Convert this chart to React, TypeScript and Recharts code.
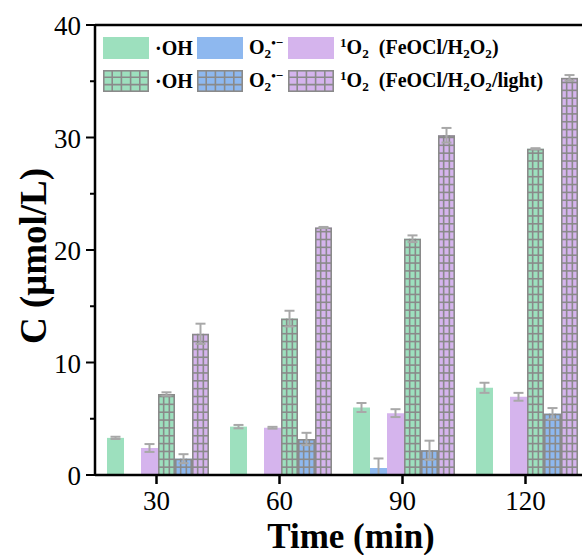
import React from "react";
import {
  BarChart,
  Bar,
  XAxis,
  YAxis,
  ErrorBar,
  Legend,
  ReferenceLine,
} from "recharts";

const SERIF = '"Liberation Serif", "Times New Roman", serif';

const times = ["30", "60", "90", "120"];

// FeOCl/H2O2
const ohDark = [3.3, 4.3, 6.0, 7.75];
const ohDarkErr = [0.1, 0.15, 0.4, 0.45];
const o2Dark = [0, 0, 0.62, 0];
const o2DarkErr = [0, 0, 0.85, 0];
const singletDark = [2.4, 4.2, 5.5, 6.95];
const singletDarkErr = [0.35, 0.08, 0.35, 0.35];

// FeOCl/H2O2/light
const ohLight = [7.2, 13.9, 21.0, 29.0];
const ohLightErr = [0.15, 0.7, 0.3, 0.05];
const o2Light = [1.45, 3.2, 2.2, 5.45];
const o2LightErr = [0.4, 0.55, 0.85, 0.5];
const singletLight = [12.55, 22.0, 30.2, 35.3];
const singletLightErr = [0.9, 0.05, 0.65, 0.25];

const yTicks = [0, 5, 10, 15, 20, 25, 30, 35, 40];

const GREEN = "#9de0be";
const BLUE = "#8eb8ef";
const PURPLE = "#d5b4ed";
const GRID = "#8a8a8a";
const ERR = "#a8a8a8";

// error bars never go below zero
const err = (v: number, e: number) => (e ? [Math.min(v, e), e] : 0);

const data = times.map((t, i) => ({
  time: t,
  ohD: ohDark[i],
  ohDE: err(ohDark[i], ohDarkErr[i]),
  o2D: o2Dark[i],
  o2DE: err(o2Dark[i], o2DarkErr[i]),
  s1D: singletDark[i],
  s1DE: err(singletDark[i], singletDarkErr[i]),
  ohL: ohLight[i],
  ohLE: err(ohLight[i], ohLightErr[i]),
  o2L: o2Light[i],
  o2LE: err(o2Light[i], o2LightErr[i]),
  s1L: singletLight[i],
  s1LE: err(singletLight[i], singletLightErr[i]),
}));

const series = [
  { key: "ohD", color: GREEN, grid: false },
  { key: "o2D", color: BLUE, grid: false },
  { key: "s1D", color: PURPLE, grid: false },
  { key: "ohL", color: GREEN, grid: true },
  { key: "o2L", color: BLUE, grid: true },
  { key: "s1L", color: PURPLE, grid: true },
];

const small = { fontSize: "0.66em" };
const Sub = ({ children }: { children: React.ReactNode }) => (
  <span style={{ ...small, position: "relative", top: "0.35em" }}>{children}</span>
);
const Sup = ({ children }: { children: React.ReactNode }) => (
  <span style={{ ...small, position: "relative", top: "-0.5em" }}>{children}</span>
);

const OH = <>·OH</>;
const O2 = (
  <>
    O<Sub>2</Sub>
    <Sup>•−</Sup>
  </>
);

const legendText: Record<string, React.ReactNode> = {
  ohD: OH,
  o2D: O2,
  s1D: (
    <>
      <Sup>1</Sup>O<Sub>2</Sub>
      {"\u00a0\u00a0"}(FeOCl/H<Sub>2</Sub>O<Sub>2</Sub>)
    </>
  ),
  ohL: OH,
  o2L: O2,
  s1L: (
    <>
      <Sup>1</Sup>O<Sub>2</Sub>
      {"\u00a0\u00a0"}(FeOCl/H<Sub>2</Sub>O<Sub>2</Sub>/light)
    </>
  ),
};

const colLeft = [0, 94, 185];
const rowTop = [0, 33];

function Swatch({ color, grid }: { color: string; grid: boolean }) {
  return (
    <svg width={46} height={22} style={{ display: "block", flex: "none" }}>
      <rect x={0} y={0} width={46} height={22} fill={color} />
      {grid && (
        <g stroke={GRID} strokeWidth={1.6}>
          {[9.2, 18.4, 27.6, 36.8].map((v) => (
            <line key={v} x1={v} x2={v} y1={0} y2={22} />
          ))}
          {[7.3, 14.6].map((v) => (
            <line key={v} x1={0} x2={46} y1={v} y2={v} />
          ))}
          <rect x={0.8} y={0.8} width={44.4} height={20.4} fill="none" />
        </g>
      )}
    </svg>
  );
}

function renderLegend(props: any) {
  const payload: any[] = props.payload || [];
  return (
    <div
      style={{
        position: "relative",
        width: 475,
        height: 56,
        fontFamily: SERIF,
        fontWeight: "bold",
        fontSize: 20,
        color: "#000",
      }}
    >
      {payload.map((entry) => {
        const idx = series.findIndex((s) => s.key === entry.dataKey);
        if (idx < 0) return null;
        const s = series[idx];
        return (
          <div
            key={s.key}
            style={{
              position: "absolute",
              left: colLeft[idx % 3],
              top: rowTop[Math.floor(idx / 3)],
              height: 22,
              display: "flex",
              alignItems: "center",
              whiteSpace: "nowrap",
            }}
          >
            <Swatch color={s.color} grid={s.grid} />
            <span style={{ marginLeft: 6, lineHeight: "22px" }}>{legendText[s.key]}</span>
          </div>
        );
      })}
    </div>
  );
}

function GridBar(props: any) {
  const { x, y, width, height, fill } = props;
  if (!height || height <= 0) return <g />;
  const bottom = y + height;
  const step = 7.85;
  const rows: number[] = [];
  for (let yy = bottom - step; yy > y + 1.5; yy -= step) rows.push(yy);
  return (
    <g>
      <rect x={x} y={y} width={width} height={height} fill={fill} />
      <g stroke={GRID} strokeWidth={1.6}>
        {[1, 2].map((k) => (
          <line key={k} x1={x + (width * k) / 3} x2={x + (width * k) / 3} y1={y} y2={bottom} />
        ))}
        {rows.map((r) => (
          <line key={r} x1={x} x2={x + width} y1={r} y2={r} />
        ))}
        <rect x={x + 0.8} y={y + 0.8} width={width - 1.6} height={height - 0.8} fill="none" />
      </g>
    </g>
  );
}

function YTick(props: any) {
  const { x, y, payload } = props;
  const major = payload.value % 10 === 0;
  return (
    <g>
      <line x1={x - (major ? 9 : 5)} x2={x} y1={y} y2={y} stroke="#000" strokeWidth={2} />
      {major && (
        <text x={x - 14} y={y + 10} textAnchor="end" fontSize={27} fontFamily={SERIF} fill="#000">
          {payload.value}
        </text>
      )}
    </g>
  );
}

function XTick(props: any) {
  const { x, y, payload } = props;
  return (
    <g>
      <line x1={x} x2={x} y1={y} y2={y + 9} stroke="#000" strokeWidth={2.5} />
      <text x={x} y={y + 34.5} textAnchor="middle" fontSize={27} fontFamily={SERIF} fill="#000">
        {payload.value}
      </text>
    </g>
  );
}

const XLabel = () => (
  <text x={351} y={548} textAnchor="middle" fontSize={35} fontWeight="bold" fontFamily={SERIF} fill="#000">
    Time (min)
  </text>
);

const YLabel = () => (
  <text
    transform="translate(46,256) rotate(-90)"
    textAnchor="middle"
    fontSize={37}
    fontWeight="bold"
    fontFamily={SERIF}
    fill="#000"
  >
    C (μmol/L)
  </text>
);

export default function App() {
  return (
    <div
      style={{
        position: "absolute",
        left: 0,
        top: 0,
        width: 582,
        height: 555,
        overflow: "hidden",
        background: "#fff",
      }}
    >
      <BarChart
        width={600}
        height={555}
        data={data}
        margin={{ top: 25, right: 13, bottom: 0, left: 0 }}
        barCategoryGap={12}
        barGap={0}
      >
        <XAxis
          dataKey="time"
          height={80}
          tickSize={0}
          tickMargin={0}
          tickLine={false}
          axisLine={{ stroke: "#000", strokeWidth: 2.5 }}
          tick={<XTick />}
          interval={0}
          label={<XLabel />}
        />
        <YAxis
          type="number"
          domain={[0, 40]}
          ticks={yTicks}
          interval={0}
          allowDataOverflow
          width={95}
          tickSize={0}
          tickMargin={0}
          tickLine={false}
          axisLine={{ stroke: "#000", strokeWidth: 2.5 }}
          tick={<YTick />}
          label={<YLabel />}
        />
        <ReferenceLine y={40} stroke="#000" strokeWidth={2.5} />
        <Legend
          layout="horizontal"
          verticalAlign="middle"
          align="center"
          wrapperStyle={{ left: 103, top: 37, width: 475, height: 56 }}
          content={renderLegend}
        />
        {series.map((s) => (
          <Bar
            key={s.key}
            dataKey={s.key}
            fill={s.color}
            isAnimationActive={false}
            shape={s.grid ? <GridBar /> : undefined}
          >
            <ErrorBar dataKey={`${s.key}E`} direction="y" width={5} stroke={ERR} strokeWidth={2} />
          </Bar>
        ))}
      </BarChart>
    </div>
  );
}
